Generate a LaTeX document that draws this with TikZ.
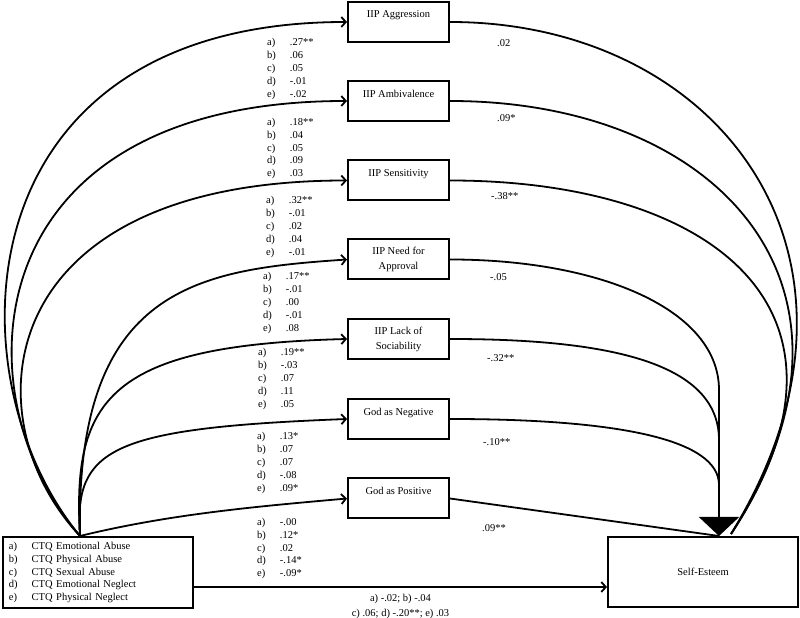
\documentclass[tikz,border=0pt]{standalone}
\usepackage{fontspec}
\setmainfont{Liberation Serif}
\usetikzlibrary{arrows.meta}
\renewcommand{\arraystretch}{1.07}
\newcommand{\abcde}[5]{\begin{tabular}{@{}l@{\hspace{14pt}}l@{}}a)&#1\\b)&#2\\c)&#3\\d)&#4\\e)&#5\end{tabular}}
\tikzset{every node/.style={font=\fontsize{10.5}{12}\selectfont},
med/.style={draw=black,line width=2pt,rectangle,minimum width=101pt,minimum height=40pt,align=center,font=\fontsize{10.5}{15}\selectfont},
ends/.style={draw=black,line width=2pt,rectangle,minimum width=190pt,minimum height=70pt},
coef/.style={inner sep=0pt,anchor=north west},
beta/.style={inner sep=0pt,anchor=west},
link/.style={line width=1.8pt}}

\begin{document}
\begin{tikzpicture}[x=1pt,y=1pt,>={Straight Barb[length=4.5pt,width=10pt]}]
    \useasboundingbox (0,0) rectangle (800,618);

    \node[med] (agg) at (398.5,596) {IIP Aggression\\\phantom{A}};
    \node[med] (amb) at (398.5,517) {IIP Ambivalence\\\phantom{A}};
    \node[med] (sens) at (398.5,437.5) {IIP Sensitivity\\\phantom{A}};
    \node[med] (need) at (398.5,358.5) {IIP Need for\\Approval};
    \node[med] (lack) at (398.5,279) {IIP Lack of\\Sociability};
    \node[med] (gneg) at (398.5,199) {God as Negative\\\phantom{A}};
    \node[med] (gpos) at (398.5,119.5) {God as Positive\\\phantom{A}};

    \node[ends,minimum height=71pt,text width=178pt,align=left,inner xsep=5pt] (ctq) at (98,45.5)
        {\abcde{CTQ Emotional Abuse}{CTQ Physical Abuse}{CTQ Sexual Abuse}{CTQ Emotional Neglect}{CTQ Physical Neglect}};
    \node[ends] (self) at (703,46) {Self-Esteem};

    \coordinate (src) at ([xshift=-18pt]ctq.north);
    \coordinate (tip) at ([xshift=16pt]self.north);
    \coordinate (rin) at ([xshift=28pt,yshift=2pt]self.north);
    \coordinate (stem) at (719,228);
    \coordinate (mlack) at (719,178);
    \coordinate (mgneg) at (719,133);

    \draw[link,->] (src) .. controls +(-130,157) and +(-388,0) .. (agg.west);
    \draw[link,->] (src) .. controls +(-120,137) and +(-378,0) .. (amb.west);
    \draw[link,->] (src) .. controls +(-110,117) and +(-358,0) .. (sens.west);
    \draw[link,->] (src) .. controls +(-5,250) and +(-148,-10) .. (need.west);
    \draw[link,->] (src) .. controls +(-8,137) and +(-238,-6) .. (lack.west);
    \draw[link,->] (src) .. controls +(-6,87) and +(-238,-9) .. (gneg.west);
    \draw[link,->] (src) .. controls +(90,22) and +(-90,-8) .. (gpos.west);

    \draw[link] (agg.east) .. controls +(271,0) and +(169,275) .. (rin);
    \draw[link] (amb.east) .. controls +(271,0) and +(159,245) .. (rin);
    \draw[link] (sens.east) .. controls +(261,0) and +(149,225) .. (rin);
    \draw[link,-{Triangle[length=19pt,width=40pt]}] (need.east) .. controls +(151,0) and +(0,80) .. (stem) -- (tip);
    \draw[link] (lack.east) .. controls +(151,0) and +(0,80) .. (mlack);
    \draw[link] (gneg.east) .. controls +(171,0) and +(0,45) .. (mgneg);
    \draw[link] (gpos.east) -- (tip);

    \draw[link,->] ([yshift=-14.5pt]ctq.east) -- ([yshift=-15pt]self.west)
        node[midway,below=6pt,inner sep=0pt,align=center,font=\fontsize{10.5}{15}\selectfont]
        {a) -.02; b) -.04\\c) .06; d) -.20**; e) .03};

    \node[coef] (c1) at (267,581.5) {\abcde{.27**}{.06}{.05}{-.01}{-.02}};
    \node[coef] (c2) at (267,501.8) {\abcde{.18**}{.04}{.05}{.09}{.03}};
    \node[coef] (c3) at (266,423.5) {\abcde{.32**}{-.01}{.02}{.04}{-.01}};
    \node[coef] (c4) at (263,347.5) {\abcde{.17**}{-.01}{.00}{-.01}{.08}};
    \node[coef] (c5) at (258,271.5) {\abcde{.19**}{-.03}{.07}{.11}{.05}};
    \node[coef] (c6) at (257,187.5) {\abcde{.13*}{.07}{.07}{-.08}{.09*}};
    \node[coef] (c7) at (257,101.8) {\abcde{-.00}{.12*}{.02}{-.14*}{-.09*}};

    \node[beta] (b1) at (497,575) {.02};
    \node[beta] (b2) at (497,500) {.09*};
    \node[beta] (b3) at (491,422) {-.38**};
    \node[beta] (b4) at (490,341) {-.05};
    \node[beta] (b5) at (487,260) {-.32**};
    \node[beta] (b6) at (483,176) {-.10**};
    \node[beta] (b7) at (482,90) {.09**};
\end{tikzpicture}
\end{document}
